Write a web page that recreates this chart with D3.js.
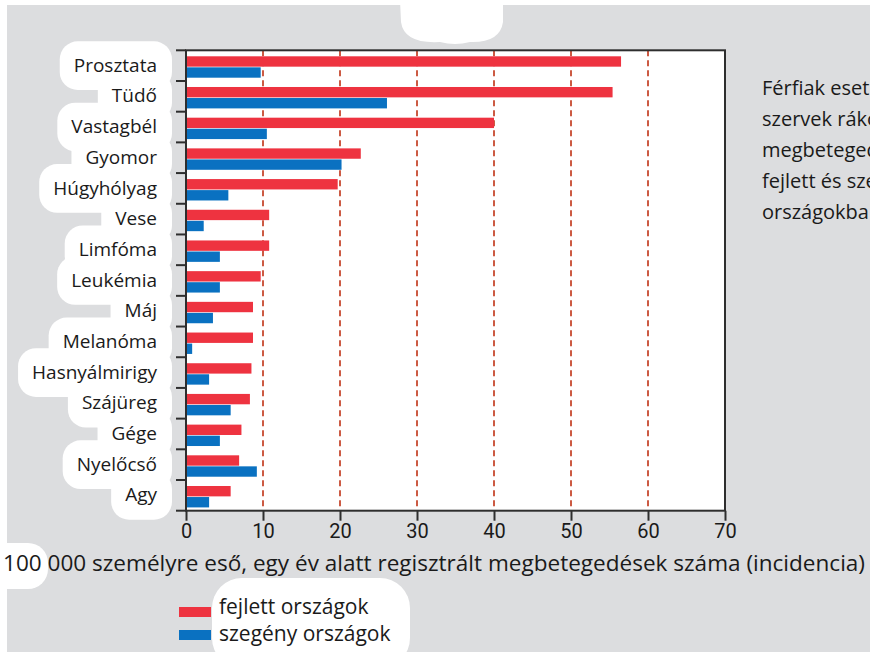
<!DOCTYPE html>
<html>
<head>
<meta charset="utf-8">
<script src="https://cdn.jsdelivr.net/npm/d3@7"></script>
<style>
  body { margin: 0; background: #dcdddf; }
  svg { display: block; }
  text { font-family: "Open Sans", "DejaVu Sans", sans-serif; fill: #1a1a1a; }
</style>
</head>
<body>
<svg id="chart" width="870" height="652"></svg>
<script>
// data
const categories = ["Prosztata", "Tüdő", "Vastagbél", "Gyomor", "Húgyhólyag", "Vese", "Limfóma",
  "Leukémia", "Máj", "Melanóma", "Hasnyálmirigy", "Szájüreg", "Gége", "Nyelőcső", "Agy"];
const developed = [56.5, 55.4, 40.0, 22.7, 19.7, 10.8, 10.8, 9.7, 8.7, 8.7, 8.5, 8.3, 7.2, 6.9, 5.8];
const poor = [9.7, 26.1, 10.5, 20.2, 5.5, 2.3, 4.4, 4.4, 3.5, 0.8, 3.0, 5.8, 4.4, 9.2, 3.0];
const seriesNames = ["fejlett országok", "szegény országok"];
const xTicks = [0, 10, 20, 30, 40, 50, 60, 70];
const xTitle = "100 000 személyre eső, egy év alatt regisztrált megbetegedések száma (incidencia)";
const sideText = ["Férfiak esetében az egyes", "szervek rákos", "megbetegedései a", "fejlett és szegény", "országokban"];

const colors = { "fejlett országok": "#ee3340", "szegény országok": "#0a71c1" };

const svg = d3.select("#chart");

// page background, thin white edges
svg.append("rect").attr("width", 870).attr("height", 652).attr("fill", "#ffffff");
svg.append("rect").attr("x", 7).attr("y", 5).attr("width", 863).attr("height", 647).attr("fill", "#dcdddf");

// scales
const x = d3.scaleLinear().domain([0, 70]).range([186, 725]);
const y = d3.scaleBand().domain(categories).range([50.3, 510.7]);
const ySub = d3.scaleBand().domain(seriesNames).range([6, 27.4]).paddingInner(0.06);

// white blobs behind texts (cut-out marks in the scan)
const blobs = svg.append("g").attr("fill", "#fff");
blobs.append("path")
  .attr("d", "M400,0 L503,0 L503,22 Q500,43 470,42 Q455,46 440,42 Q404,44 401,22 Z");

// y labels (drawn first to measure them)
const labels = svg.append("g")
  .attr("transform", "translate(" + x(0) + ",0)")
  .call(d3.axisLeft(y).tickSize(0).tickPadding(29));
labels.select(".domain").remove();
labels.selectAll("text")
  .style("font-family", "\"Open Sans\", sans-serif")
  .style("font-size", "19px")
  .attr("fill", "#1a1a1a");

labels.selectAll("text").each(function(d) {
  const w = this.getComputedTextLength();
  blobs.insert("rect", ":first-child")
    .attr("x", 157 - w - 14)
    .attr("y", y(d) - 9)
    .attr("width", w + 14 + 15)
    .attr("height", y.bandwidth() + 18)
    .attr("rx", 18);
});
labels.raise();

// bottom-left and legend blobs
blobs.append("rect").attr("x", -20).attr("y", 543).attr("width", 68).attr("height", 46).attr("rx", 20);
blobs.append("rect").attr("x", 212).attr("y", 578).attr("width", 198).attr("height", 90).attr("rx", 30);

// plot area
svg.append("rect")
  .attr("x", x(0)).attr("y", y.range()[0])
  .attr("width", x(70) - x(0)).attr("height", y.range()[1] - y.range()[0])
  .attr("fill", "#fff");

// dashed gridlines
svg.append("g")
  .selectAll("line")
  .data(xTicks.filter(function(t) { return t > 0 && t < 70; }))
  .join("line")
  .attr("x1", function(d) { return x(d); })
  .attr("x2", function(d) { return x(d); })
  .attr("y1", y.range()[0])
  .attr("y2", y.range()[1])
  .attr("stroke", "#cc5a43")
  .attr("stroke-width", 2)
  .attr("stroke-dasharray", "6,4");

// bars
const rows = categories.map(function(c, i) {
  return { cat: c, values: [
    { key: seriesNames[0], value: developed[i] },
    { key: seriesNames[1], value: poor[i] }
  ] };
});

svg.append("g")
  .selectAll("g")
  .data(rows)
  .join("g")
  .attr("transform", function(d) { return "translate(0," + y(d.cat) + ")"; })
  .selectAll("rect")
  .data(function(d) { return d.values; })
  .join("rect")
  .attr("x", x(0))
  .attr("y", function(d) { return ySub(d.key); })
  .attr("width", function(d) { return x(d.value) - x(0); })
  .attr("height", ySub.bandwidth())
  .attr("fill", function(d) { return colors[d.key]; });

// frame
svg.append("rect")
  .attr("x", x(0)).attr("y", y.range()[0])
  .attr("width", x(70) - x(0)).attr("height", y.range()[1] - y.range()[0])
  .attr("fill", "none")
  .attr("stroke", "#2e2e2e")
  .attr("stroke-width", 2);

// y ticks at band boundaries
const bounds = d3.range(categories.length + 1).map(function(i) { return y.range()[0] + i * y.step(); });
svg.append("g")
  .selectAll("line")
  .data(bounds)
  .join("line")
  .attr("x1", x(0) - 10).attr("x2", x(0))
  .attr("y1", function(d) { return d; }).attr("y2", function(d) { return d; })
  .attr("stroke", "#2e2e2e")
  .attr("stroke-width", 2);

// x axis
const xAxis = svg.append("g")
  .attr("transform", "translate(0," + y.range()[1] + ")")
  .call(d3.axisBottom(x).tickValues(xTicks).tickSize(10).tickPadding(3));
xAxis.select(".domain").remove();
xAxis.selectAll("line").attr("stroke", "#2e2e2e").attr("stroke-width", 2);
xAxis.selectAll("text")
  .style("font-family", "\"Liberation Sans Narrow\", \"Roboto\", sans-serif")
  .style("font-size", "20px")
  .attr("fill", "#2a3045");

// x title
svg.append("text")
  .attr("x", 3).attr("y", 571)
  .attr("textLength", 862)
  .attr("lengthAdjust", "spacingAndGlyphs")
  .style("font-size", "21px")
  .text(xTitle);

// legend
const legend = svg.append("g")
  .selectAll("g")
  .data(seriesNames)
  .join("g");
legend.append("rect")
  .attr("x", 179)
  .attr("y", function(d, i) { return 607 + i * 23; })
  .attr("width", 32).attr("height", 10)
  .attr("fill", function(d) { return colors[d]; });
legend.append("text")
  .attr("x", 219)
  .attr("y", function(d, i) { return 614 + i * 27; })
  .style("font-size", "21px")
  .text(function(d) { return d; });

// side note (cut at the right edge, as in the scan)
svg.append("g")
  .selectAll("text")
  .data(sideText)
  .join("text")
  .attr("x", 762)
  .attr("y", function(d, i) { return 95 + i * 31; })
  .style("font-size", "20px")
  .text(function(d) { return d; });
</script>
</body>
</html>
